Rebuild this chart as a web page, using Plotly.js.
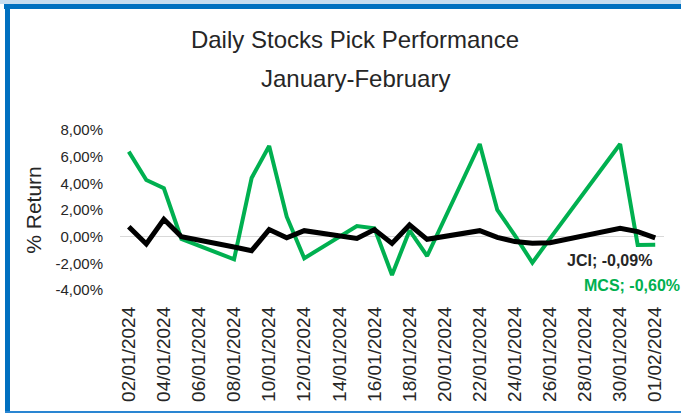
<!DOCTYPE html>
<html>
<head>
<meta charset="utf-8">
<script src="https://cdn.plot.ly/plotly-3.0.1.min.js"></script>
<style>
  html, body { margin: 0; padding: 0; background: #ffffff; }
  #wrap { position: relative; width: 681px; height: 413px; overflow: hidden; }
  #chart { width: 681px; height: 413px; }
  .bd { position: absolute; pointer-events: none; }
</style>
</head>
<body>
<div id="wrap">
  <div id="chart"></div>
  <div class="bd" style="left:0;top:0;width:681px;height:4px;background:#c5dcf0;"></div>
  <div class="bd" style="left:4px;top:4px;width:677px;height:5px;background:#0070c0;"></div>
  <div class="bd" style="left:5px;top:4px;width:5px;height:409px;background:#0070c0;"></div>
  <div class="bd" style="left:5px;top:411px;width:676px;height:2px;background:#2a86d2;"></div>
</div>
<script>
// Trading days
var dates = [
  "2024-01-02","2024-01-03","2024-01-04","2024-01-05",
  "2024-01-08","2024-01-09","2024-01-10","2024-01-11","2024-01-12",
  "2024-01-15","2024-01-16","2024-01-17","2024-01-18","2024-01-19",
  "2024-01-22","2024-01-23","2024-01-24","2024-01-25","2024-01-26",
  "2024-01-29","2024-01-30","2024-01-31","2024-02-01"
];
// Daily returns in %
var mcs = [6.38, 4.25, 3.63, -0.17, -1.70, 4.40, 6.80, 1.50, -1.62,
           0.80, 0.63, -2.87, 0.47, -1.45, 6.95, 2.00, 0.10, -1.95, -0.15,
           5.20, 6.95, -0.62, -0.60];
var jci = [0.75, -0.55, 1.30, 0.00, -0.77, -1.05, 0.53, -0.08, 0.45,
           -0.13, 0.53, -0.51, 0.88, -0.20, 0.45, -0.05, -0.37, -0.50, -0.45,
           0.38, 0.63, 0.38, -0.09];
var seriesNames = ["MCS", "JCI"];
var yTickVals = [-4, -2, 0, 2, 4, 6, 8];
var titleLine1 = "Daily Stocks Pick Performance";
var titleLine2 = "January-February";
var yTitle = "% Return";

function fmtPct(v) { return v.toFixed(2).replace(".", ",") + "%"; }

var FONT = "'Liberation Sans', Arial, sans-serif";
var GREEN = "#00b050";
var TXT = "#262626";

var traces = [
  { x: dates, y: mcs, name: seriesNames[0], type: "scatter", mode: "lines",
    line: { color: GREEN, width: 4 } },
  { x: dates, y: jci, name: seriesNames[1], type: "scatter", mode: "lines",
    line: { color: "#000000", width: 5 } }
];

var last = dates.length - 1;
var layout = {
  width: 681, height: 413,
  margin: { l: 120, r: 17, t: 130, b: 123, pad: 0 },
  paper_bgcolor: "#ffffff", plot_bgcolor: "#ffffff",
  showlegend: false,
  font: { family: FONT, color: TXT },
  title: { text: titleLine1, font: { family: FONT, size: 24, color: TXT },
           x: 355/681, xref: "container", xanchor: "center",
           y: 1 - 40/413, yref: "container", yanchor: "middle" },
  xaxis: {
    type: "date",
    range: ["2024-01-01 12:00", "2024-02-01 12:00"],
    tick0: "2024-01-02", dtick: 2 * 86400000,
    tickformat: "%d/%m/%Y", tickangle: -90,
    tickfont: { family: FONT, size: 19, color: TXT },
    showgrid: false, zeroline: false, showline: false, ticks: "",
    ticklabelstandoff: 12, fixedrange: true
  },
  yaxis: {
    range: [-4, 8],
    tickvals: yTickVals, ticktext: yTickVals.map(fmtPct),
    tickfont: { family: FONT, size: 15, color: TXT },
    showgrid: false, zeroline: true, zerolinecolor: "#d9d9d9", zerolinewidth: 1,
    showline: false, ticks: "", ticklabelstandoff: 16,
    title: { text: yTitle, font: { family: FONT, size: 21, color: TXT }, standoff: 8 },
    fixedrange: true
  },
  annotations: [
    { text: titleLine2, xref: "paper", yref: "paper",
      x: (355 - 120) / 544, y: (413 - 123 - 78) / 160, showarrow: false,
      font: { family: FONT, size: 24, color: TXT }, xanchor: "center", yanchor: "middle" },
    { text: "<b>" + seriesNames[1] + "; " + fmtPct(jci[last]) + "</b>",
      x: dates[last], y: jci[last], showarrow: false,
      xshift: -46, yshift: -23, xanchor: "center", yanchor: "middle",
      font: { family: FONT, size: 16, color: "#262626" } },
    { text: "<b>" + seriesNames[0] + "; " + fmtPct(mcs[last]) + "</b>",
      x: dates[last], y: mcs[last], showarrow: false,
      xshift: -23, yshift: -41, xanchor: "center", yanchor: "middle",
      font: { family: FONT, size: 16, color: GREEN } }
  ]
};

Plotly.newPlot("chart", traces, layout, { staticPlot: true, displayModeBar: false });
</script>
</body>
</html>
